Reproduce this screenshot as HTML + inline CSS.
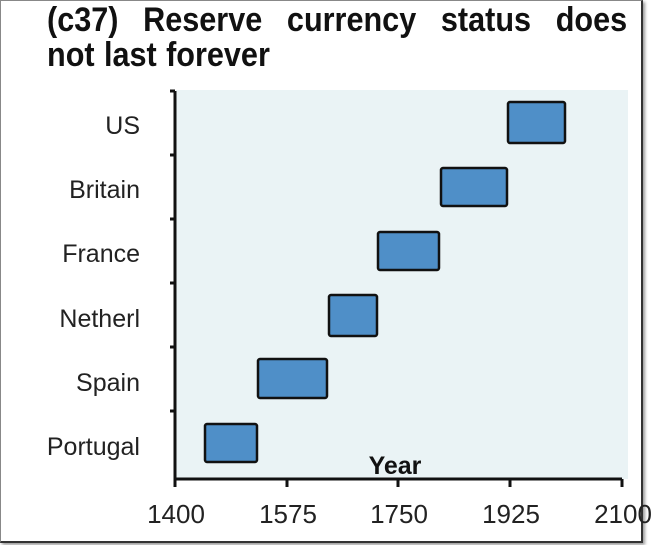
<!DOCTYPE html>
<html><head><style>
body{margin:0;background:#fff;width:653px;height:545px;overflow:hidden;font-family:"Liberation Sans",Arial,sans-serif;}
.frame{position:absolute;left:0;top:0;width:640px;height:540px;border:1px solid #888;border-right:2px solid #333;border-bottom:2px solid #333;box-shadow:2px 2px 3px #999;}
.t{position:absolute;left:47px;font-weight:bold;font-size:34px;color:#111;width:700px;white-space:nowrap;transform:scaleX(0.9);transform-origin:0 0;}
</style></head><body>
<div class="frame"></div>
<div class="t" style="top:1px;word-spacing:18px;">(c37) Reserve currency status does</div>
<div class="t" style="top:36px;word-spacing:1px;">not last forever</div>
<svg width="653" height="545" style="position:absolute;left:0;top:0">
<rect x="176" y="90" width="452" height="389" fill="#eaf3f5"/>
<g stroke="#111" stroke-width="3">
<line x1="175" y1="91" x2="175" y2="480"/>
<line x1="174" y1="479" x2="622" y2="479"/>
<line x1="170" y1="91" x2="175" y2="91"/>
<line x1="170" y1="155" x2="175" y2="155"/>
<line x1="170" y1="219" x2="175" y2="219"/>
<line x1="170" y1="283" x2="175" y2="283"/>
<line x1="170" y1="347" x2="175" y2="347"/>
<line x1="170" y1="411" x2="175" y2="411"/>
<line x1="175" y1="479" x2="175" y2="487"/>
<line x1="287" y1="479" x2="287" y2="487"/>
<line x1="398" y1="479" x2="398" y2="487"/>
<line x1="510" y1="479" x2="510" y2="487"/>
<line x1="622" y1="479" x2="622" y2="487"/>
</g>
<g fill="#4f8fc8" stroke="#111" stroke-width="2.5">
<rect x="508" y="102" width="57" height="41" rx="2"/>
<rect x="441" y="168" width="66" height="38" rx="2"/>
<rect x="378" y="232" width="61" height="38" rx="2"/>
<rect x="329" y="295" width="48" height="41" rx="2"/>
<rect x="258" y="359" width="69" height="39" rx="2"/>
<rect x="205" y="424" width="52" height="38" rx="2"/>
</g>
<g font-family="Liberation Sans,Arial,sans-serif" font-size="25" fill="#222" text-anchor="end">
<text x="140" y="134">US</text>
<text x="140" y="198">Britain</text>
<text x="140" y="262">France</text>
<text x="140" y="327">Netherl</text>
<text x="140" y="391">Spain</text>
<text x="140" y="455">Portugal</text>
</g>
<text x="395" y="474" font-family="Liberation Sans,Arial,sans-serif" font-size="25" font-weight="bold" fill="#111" text-anchor="middle">Year</text>
<g font-family="Liberation Sans,Arial,sans-serif" font-size="26" fill="#222" text-anchor="middle">
<text x="176" y="523">1400</text>
<text x="288" y="523">1575</text>
<text x="399" y="523">1750</text>
<text x="511" y="523">1925</text>
<text x="623" y="523">2100</text>
</g>
</svg>
</body></html>
